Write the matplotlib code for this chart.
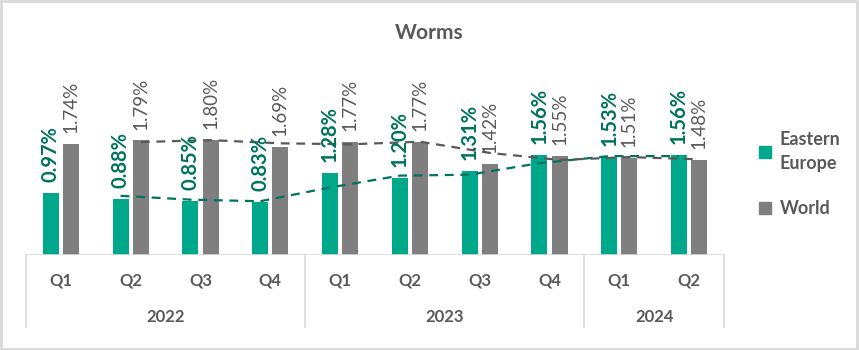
import matplotlib.pyplot as plt
import numpy as np
import pandas as pd
from matplotlib.patches import Rectangle
from matplotlib.lines import Line2D

plt.rcParams["font.family"] = ["Lato", "DejaVu Sans"]

quarters = ["Q1", "Q2", "Q3", "Q4", "Q1", "Q2", "Q3", "Q4", "Q1", "Q2"]
years = ["2022", "2023", "2024"]
year_counts = [4, 4, 2]
eastern_europe = [0.97, 0.88, 0.85, 0.83, 1.28, 1.20, 1.31, 1.56, 1.53, 1.56]
world = [1.74, 1.79, 1.80, 1.69, 1.77, 1.77, 1.42, 1.55, 1.51, 1.48]

green = "#00A88B"
green_dark = "#00735D"
gray = "#7F7F7F"
text_gray = "#595959"

fig = plt.figure(figsize=(8.59, 3.5), dpi=100)
ax = fig.add_axes([26 / 859, 95 / 350, 698 / 859, 211 / 350])

x = np.arange(len(quarters))
w = 0.23
off = 0.145
ax.bar(x - off, eastern_europe, w, color=green)
ax.bar(x + off, world, w, color=gray)

# 2-period moving average trendlines
ee_ma = pd.Series(eastern_europe).rolling(2).mean()
w_ma = pd.Series(world).rolling(2).mean()
ax.plot(x[1:] - off, ee_ma[1:], ls=(0, (4, 3)), color=green_dark, lw=1.6)
ax.plot(x[1:] + off, w_ma[1:], ls=(0, (4, 3)), color=text_gray, lw=1.6)

for i in range(len(x)):
    ax.text(x[i] - off, eastern_europe[i] + 0.17, f"{eastern_europe[i]:.2f}%",
            rotation=90, ha="center", va="bottom", fontsize=14.5,
            fontweight="bold", color=green_dark)
    ax.text(x[i] + off, world[i] + 0.17, f"{world[i]:.2f}%",
            rotation=90, ha="center", va="bottom", fontsize=13.5,
            color=text_gray)

ax.set_xlim(-0.5, len(x) - 0.5)
ax.set_ylim(0, 211 / 64)
ax.axis("off")

# category axis (two levels)
ax.axhline(0, color="#D9D9D9", lw=1.2)
trans = ax.get_xaxis_transform()
for i, q in enumerate(quarters):
    ax.text(x[i], -0.12, q, transform=trans, ha="center", va="center",
            fontsize=12, fontweight="bold", color=text_gray)
start = 0
bounds = [-0.5]
for yr, n in zip(years, year_counts):
    ax.text(start + (n - 1) / 2, -0.295, yr, transform=trans, ha="center",
            va="center", fontsize=12, fontweight="bold", color=text_gray)
    start += n
    bounds.append(start - 0.5)
for b in bounds:
    ax.plot([b, b], [0, -0.34], transform=trans, color="#D9D9D9", lw=1.2,
            clip_on=False)

fig.text(0.5, 0.905, "Worms", ha="center", va="center", fontsize=15,
         fontweight="bold", color=text_gray)

handles = [Line2D([], [], marker="s", ls="", color=green, markersize=9),
           Line2D([], [], marker="s", ls="", color=gray, markersize=9)]
leg = fig.legend(handles, ["Eastern\nEurope", "World"], loc="upper left",
                 bbox_to_anchor=(740 / 859, 1 - 115 / 350), frameon=False,
                 handletextpad=0.3, labelspacing=1.6,
                 prop={"weight": "bold", "size": 13},
                 labelcolor=text_gray, handlelength=1)
for t in leg.get_texts():
    t.set_linespacing(1.45)

fig.patches.append(Rectangle((0.001, 0.002), 0.997, 0.995, transform=fig.transFigure,
                             fill=False, edgecolor="#D9D9D9", lw=2))

fig.savefig("out.png", dpi=100)
